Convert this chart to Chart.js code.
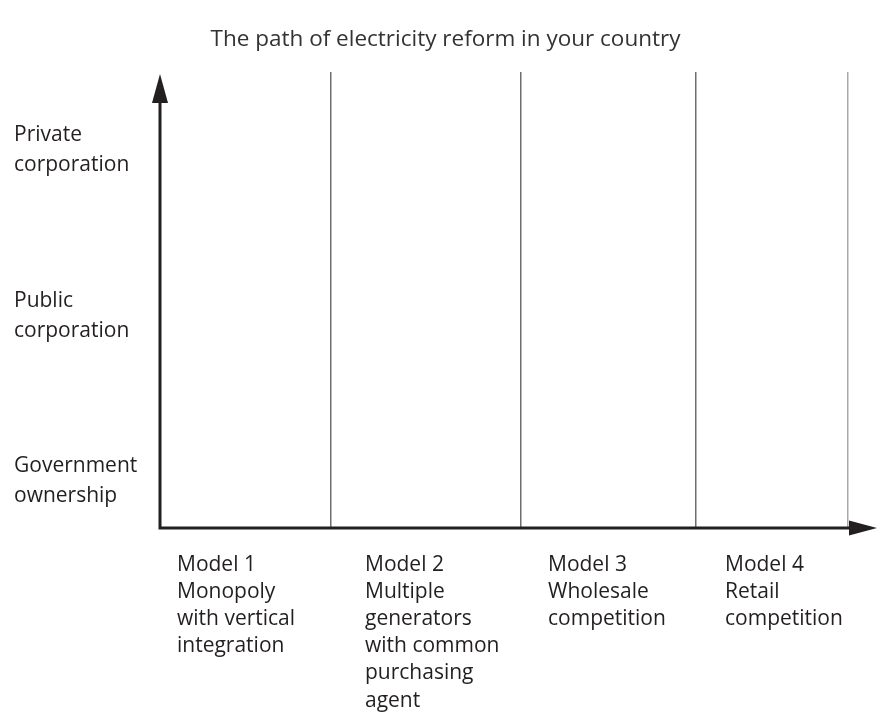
<!DOCTYPE html>
<html>
<head>
<meta charset="utf-8">
<title>The path of electricity reform in your country</title>
<script src="https://cdn.jsdelivr.net/npm/chart.js@4"></script>
<style>
  html, body { margin: 0; padding: 0; background: #fff; }
  #wrap { width: 878px; height: 728px; }
</style>
</head>
<body>
<div id="wrap"><canvas id="chart"></canvas></div>
<script>
// --- Data ---
const chartTitle = 'The path of electricity reform in your country';
const ownershipLevels = [
    ['Government', 'ownership'],
    ['Public', 'corporation'],
    ['Private', 'corporation']
];
const modelLabels = [
    ['Model 1', 'Monopoly', 'with vertical', 'integration'],
    ['Model 2', 'Multiple', 'generators', 'with common', 'purchasing', 'agent'],
    ['Model 3', 'Wholesale', 'competition'],
    ['Model 4', 'Retail', 'competition']
];
// column boundaries along the horizontal axis (diagram units)
const columnEdges = [0, 171, 361, 536, 688];
const axisEnd = 717;

// --- Style ---
const ink = '#231f20';
const gridGrey = '#6d6e71';
const labelInsets = [17, 34, 27, 29];

// arrows on both axes
const axisArrows = {
    id: 'axisArrows',
    afterDraw(chart) {
        const { ctx, chartArea: a } = chart;
        ctx.save();
        ctx.strokeStyle = ink;
        ctx.fillStyle = ink;
        ctx.lineWidth = 3;
        ctx.beginPath();
        ctx.moveTo(a.left, a.bottom + 1.5);
        ctx.lineTo(a.left, a.top + 20);
        ctx.moveTo(a.left - 1.5, a.bottom);
        ctx.lineTo(a.right - 20, a.bottom);
        ctx.stroke();
        // up arrow
        ctx.beginPath();
        ctx.moveTo(a.left, a.top + 2);
        ctx.lineTo(a.left - 8, a.top + 31);
        ctx.lineTo(a.left + 8, a.top + 31);
        ctx.closePath();
        ctx.fill();
        // right arrow
        ctx.beginPath();
        ctx.moveTo(a.right, a.bottom);
        ctx.lineTo(a.right - 28, a.bottom - 7.5);
        ctx.lineTo(a.right - 28, a.bottom + 7.5);
        ctx.closePath();
        ctx.fill();
        ctx.restore();
    }
};

new Chart(document.getElementById('chart'), {
    type: 'scatter',
    data: { datasets: [] },
    options: {
        responsive: true,
        maintainAspectRatio: false,
        animation: false,
        layout: { padding: { left: 14, right: 1, top: 0, bottom: 0 } },
        plugins: {
            legend: { display: false },
            tooltip: { enabled: false },
            title: {
                display: true,
                text: chartTitle,
                color: '#333',
                font: { family: 'Open Sans', size: 22.5, weight: 'normal', lineHeight: 1.2 },
                padding: { top: 26, bottom: 19 }
            }
        },
        scales: {
            y: {
                type: 'linear',
                min: -0.285,
                max: 2.475,
                afterBuildTicks: s => { s.ticks = ownershipLevels.map((_, i) => ({ value: i })); },
                afterFit: s => { s.width = 146; },
                grid: { display: false },
                border: { display: false },
                ticks: {
                    crossAlign: 'far',
                    color: ink,
                    font: { family: 'Open Sans', size: 21, lineHeight: '30px' },
                    callback: (v, i) => ownershipLevels[i]
                }
            },
            x: {
                type: 'linear',
                position: 'bottom',
                min: 0,
                max: axisEnd,
                afterBuildTicks: s => { s.ticks = columnEdges.map(v => ({ value: v })); },
                afterFit: s => { s.height = 0; },
                border: { display: false },
                grid: {
                    drawTicks: false,
                    lineWidth: 1.5,
                    color: c => c.index === 0 ? 'rgba(0,0,0,0)' :
                        (c.index === columnEdges.length - 1 ? '#a7a9ac' : gridGrey)
                },
                ticks: { display: false }
            },
            models: {
                type: 'linear',
                position: 'bottom',
                min: 0,
                max: axisEnd,
                afterBuildTicks: s => {
                    s.ticks = modelLabels.map((_, i) => ({ value: columnEdges[i] + labelInsets[i] }));
                },
                afterFit: s => { s.height = 200; },
                border: { display: false },
                grid: { display: false, drawTicks: false },
                ticks: {
                    align: 'start',
                    autoSkip: false,
                    maxRotation: 0,
                    padding: 23,
                    color: ink,
                    font: { family: 'Open Sans', size: 21, lineHeight: '27.2px' },
                    callback: (v, i) => modelLabels[i]
                }
            }
        }
    },
    plugins: [axisArrows]
});
</script>
</body>
</html>
